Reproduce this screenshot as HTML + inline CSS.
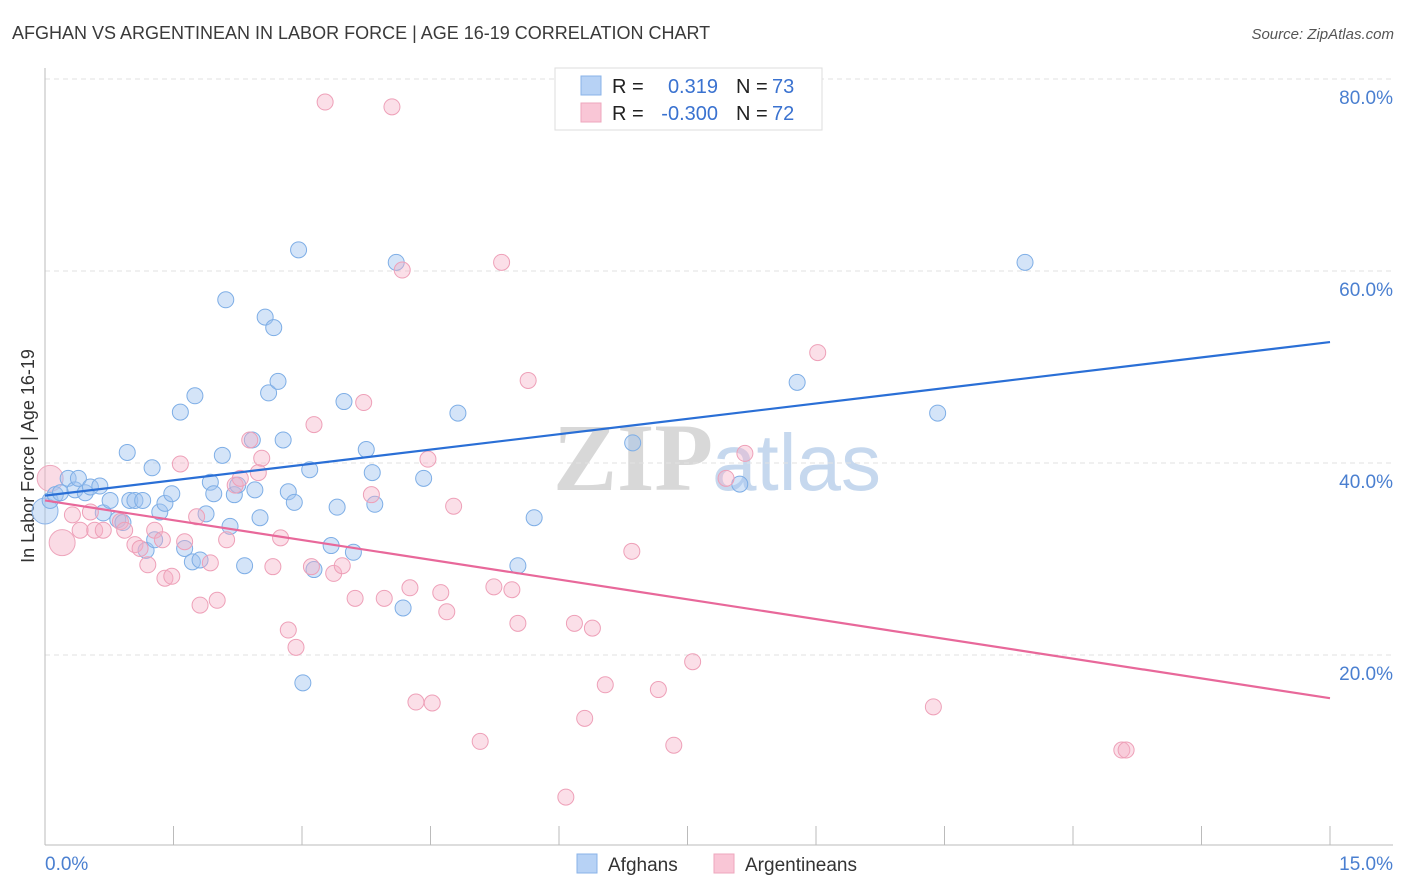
<!DOCTYPE html>
<html><head><meta charset="utf-8"><style>
body{margin:0;background:#fff;font-family:"Liberation Sans",sans-serif;}
svg{display:block}
</style></head><body>
<svg id="c" width="1406" height="892" xmlns="http://www.w3.org/2000/svg">
<text x="12" y="39" font-size="18" fill="#3a3a3a">AFGHAN VS ARGENTINEAN IN LABOR FORCE | AGE 16-19 CORRELATION CHART</text>
<text x="1394" y="39" font-size="15" font-style="italic" fill="#555" text-anchor="end">Source: ZipAtlas.com</text>
<text x="0" y="0" transform="translate(34,456) rotate(-90)" font-size="18" fill="#333" text-anchor="middle">In Labor Force | Age 16-19</text>
<g><text x="553" y="490" font-size="96" font-family="Liberation Serif,serif" fill="#d8d8d8" font-weight="bold">ZIP</text><text x="712" y="490" font-size="80" fill="#c6d8ee">atlas</text></g>
<g id="grid"></g><g id="axes"></g><g id="pts"></g><g id="lines"></g>
<g>
<rect x="555" y="68" width="267" height="62" fill="#fff" stroke="#ddd"/>
<rect x="581" y="76" width="20" height="19" fill="#b7d2f5" stroke="#8ab3e8"/>
<rect x="581" y="103" width="20" height="19" fill="#f9c6d6" stroke="#eea7bd"/>
<text x="612" y="93" font-size="20" fill="#222">R =</text><text x="718" y="93" font-size="20" fill="#3a72d0" text-anchor="end">0.319</text>
<text x="736" y="93" font-size="20" fill="#222">N =</text><text x="772" y="93" font-size="20" fill="#3a72d0">73</text>
<text x="612" y="120" font-size="20" fill="#222">R =</text><text x="718" y="120" font-size="20" fill="#3a72d0" text-anchor="end">-0.300</text>
<text x="736" y="120" font-size="20" fill="#222">N =</text><text x="772" y="120" font-size="20" fill="#3a72d0">72</text>
</g>
<g>
<rect x="577" y="854" width="20" height="19" fill="#b7d2f5" stroke="#8ab3e8"/>
<text x="608" y="871" font-size="19" fill="#333">Afghans</text>
<rect x="714" y="854" width="20" height="19" fill="#f9c6d6" stroke="#eea7bd"/>
<text x="745" y="871" font-size="19" fill="#333">Argentineans</text>
</g>
</svg>
<script>
const xTicks=[0,1.5,3,4.5,6,7.5,9,10.5,12,13.5,15];
const yTicks=[20,40,60,80];
const blueX=[0.06,0.12,0.18,0.27,0.35,0.39,0.47,0.53,0.64,0.68,0.76,0.85,0.91,0.96,0.99,1.05,1.14,1.18,1.25,1.28,1.34,1.40,1.48,1.58,1.63,1.72,1.75,1.81,1.88,1.93,1.97,2.07,2.11,2.16,2.21,2.25,2.33,2.42,2.45,2.51,2.57,2.61,2.67,2.72,2.78,2.84,2.91,2.96,3.01,3.09,3.14,3.34,3.41,3.49,3.60,3.75,3.82,3.85,4.10,4.18,4.42,4.82,5.52,5.71,6.86,8.11,8.78,10.42,11.44];
const blueY=[36.1,36.7,36.9,38.4,37.2,38.4,36.9,37.5,37.6,34.8,36.1,34.1,33.8,41.1,36.1,36.1,36.1,30.9,39.5,32.0,34.9,35.8,36.8,45.3,31.1,29.7,47.0,29.9,34.7,38.0,36.8,40.8,57.0,33.4,36.7,37.7,29.3,42.4,37.2,34.3,55.2,47.3,54.1,48.5,42.4,37.0,35.9,62.2,17.1,39.3,28.9,31.4,35.4,46.4,30.7,41.4,39.0,35.7,60.9,24.9,38.4,45.2,29.3,34.3,42.1,37.8,48.4,45.2,60.9];
const pinkX=[0.32,0.41,0.53,0.58,0.68,0.88,0.93,1.05,1.11,1.20,1.28,1.37,1.40,1.48,1.58,1.63,1.77,1.81,1.93,2.01,2.12,2.22,2.28,2.39,2.49,2.53,2.66,2.75,2.84,2.93,3.11,3.14,3.27,3.37,3.47,3.62,3.72,3.81,3.96,4.05,4.17,4.26,4.33,4.47,4.52,4.62,4.69,4.77,5.08,5.24,5.33,5.45,5.52,5.64,6.08,6.18,6.30,6.39,6.54,6.85,7.16,7.34,7.56,7.95,8.17,9.02,10.37,12.57,12.62];
const pinkY=[34.6,33.0,34.9,33.0,33.0,33.9,33.0,31.5,31.1,29.4,33.0,32.0,28.0,28.2,39.9,31.8,34.4,25.2,29.6,25.7,32.0,37.7,38.4,42.4,39.0,40.5,29.2,32.2,22.6,20.8,29.2,44.0,77.6,28.5,29.3,25.9,46.3,36.7,25.9,77.1,60.1,27.0,15.1,40.4,15.0,26.5,24.5,35.5,11.0,27.1,60.9,26.8,23.3,48.6,5.2,23.3,13.4,22.8,16.9,30.8,16.4,10.6,19.3,38.4,41.0,51.5,14.6,10.1,10.1];
const bigBlueX=[0.0],bigBlueY=[35.0];
const bigPinkX=[0.06,0.20],bigPinkY=[38.4,31.7];
const trendBlue=[36.6,52.6], trendPink=[36.1,15.5];
const NS='http://www.w3.org/2000/svg';
const sx=v=>45+v*(1285/15), sy=v=>847-v*9.6;
function mk(p,t,a){const e=document.createElementNS(NS,t);for(const k in a)e.setAttribute(k,a[k]);p.appendChild(e);return e;}
const grid=document.getElementById('grid'),axes=document.getElementById('axes'),pts=document.getElementById('pts'),lines=document.getElementById('lines');
yTicks.forEach(v=>{
 const l=mk(grid,'line',{x1:45,x2:1393,y1:sy(v),y2:sy(v),stroke:'#e2e2e2','stroke-dasharray':'5,4'});
 
 
 const t=mk(axes,'text',{x:1393,y:sy(v)+25,'font-size':19,fill:'#4a7fd0','text-anchor':'end'});t.textContent=v.toFixed(1)+'%';
 
 
});
const ax=mk(axes,'line',{x1:45,x2:1393,y1:845,y2:845,stroke:'#bbb'});


const ay=mk(axes,'line',{x1:45,x2:45,y1:68,y2:845,stroke:'#bbb'});


xTicks.forEach(v=>{const t=mk(axes,'line',{x1:sx(v),x2:sx(v),y1:826,y2:845,stroke:'#bbb'});
 
 });
[[0,'0.0%','start',45],[15,'15.0%','end',1393]].forEach(d=>{const t=mk(axes,'text',{x:d[3],y:870,'font-size':19,fill:'#4a7fd0','text-anchor':d[2]});t.textContent=d[1];
 
 });
function dots(X,Y,r,fill,stroke,name){X.forEach((x,i)=>{const c=mk(pts,'circle',{cx:sx(x),cy:sy(Y[i]),r:r,fill:fill,stroke:stroke,'stroke-width':1});
 
 });}
dots(bigBlueX,bigBlueY,13,'rgba(160,196,240,0.45)','#8ab3e8','afghan-point');
dots(bigPinkX,bigPinkY,13,'rgba(245,175,198,0.45)','#eea7bd','argentinean-point');
dots(blueX,blueY,8,'rgba(160,196,240,0.45)','#7eaee6','afghan-point');
dots(pinkX,pinkY,8,'rgba(245,175,198,0.4)','#eea0b8','argentinean-point');
const lb=mk(lines,'line',{x1:sx(0),y1:sy(trendBlue[0]),x2:sx(15),y2:sy(trendBlue[1]),stroke:'#2a6fd6','stroke-width':2.2});


const lp=mk(lines,'line',{x1:sx(0),y1:sy(trendPink[0]),x2:sx(15),y2:sy(trendPink[1]),stroke:'#e8689a','stroke-width':2.2});


</script>
</body></html>
